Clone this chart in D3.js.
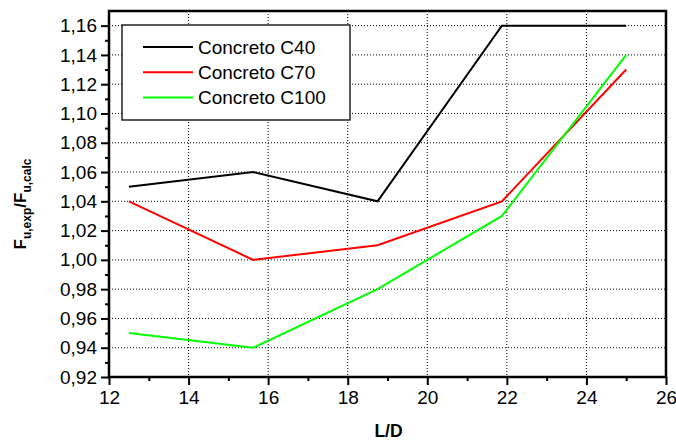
<!DOCTYPE html>
<html><head><meta charset="utf-8">
<script src="https://cdn.jsdelivr.net/npm/d3@7"></script>
<style>body{margin:0;background:#fff}svg{display:block}</style>
</head><body>
<svg id="c" width="676" height="441"></svg>
<script>
const ld = [12.5, 15.625, 18.75, 21.875, 25];
const c40 = [1.05, 1.06, 1.04, 1.16, 1.16];
const c70 = [1.04, 1.00, 1.01, 1.04, 1.13];
const c100 = [0.95, 0.94, 0.98, 1.03, 1.14];
const seriesNames = ["Concreto C40", "Concreto C70", "Concreto C100"];
const seriesColors = ["#000000", "#ff0000", "#00ff00"];
const xTicks = [12, 14, 16, 18, 20, 22, 24, 26];
const yTicks = [0.92, 0.94, 0.96, 0.98, 1.00, 1.02, 1.04, 1.06, 1.08, 1.10, 1.12, 1.14, 1.16];

const svg = d3.select("#c");
const L = 109, R = 666, T = 11, B = 377;
const x = d3.scaleLinear().domain([12, 26]).range([L, R]);
const y = d3.scaleLinear().domain([0.92, 1.17]).range([B, T]);
const font = "Arial, 'Liberation Sans', sans-serif";

// grid
const g = svg.append("g");
g.selectAll("line.gx").data(xTicks.filter(d => d > 12 && d < 26)).enter().append("line")
  .attr("x1", d => x(d)).attr("x2", d => x(d)).attr("y1", T).attr("y2", B)
  .attr("stroke", "#000").attr("stroke-width", 1).attr("stroke-dasharray", "1,2");
g.selectAll("line.gy").data(yTicks.filter(d => d > 0.92)).enter().append("line")
  .attr("x1", L).attr("x2", R).attr("y1", d => y(d)).attr("y2", d => y(d))
  .attr("stroke", "#000").attr("stroke-width", 1).attr("stroke-dasharray", "1,2");

// series
const data = [c40, c70, c100];
const line = d3.line().x((d, i) => x(ld[i])).y(d => y(d));
data.forEach((s, k) => {
  svg.append("path").datum(s).attr("d", line).attr("fill", "none")
    .attr("stroke", seriesColors[k]).attr("stroke-width", 2);
});

// axes
const xAxis = d3.axisBottom(x).tickValues(xTicks).tickSize(8).tickPadding(6).tickFormat(d3.format("d"));
const xMinor = d3.axisBottom(x).tickValues(d3.range(13, 26, 2)).tickSize(4).tickFormat("");
const fmtY = d => d3.format(".2f")(d).replace(".", ",");
const yAxis = d3.axisLeft(y).tickValues(yTicks).tickSize(8).tickPadding(4).tickFormat(fmtY);
const yMinor = d3.axisLeft(y).tickValues(d3.range(0.93, 1.17, 0.02)).tickSize(4).tickFormat("");

function style(sel) {
  sel.attr("font-size", null).attr("font-family", null);
  sel.select(".domain").remove();
  sel.selectAll("line").attr("stroke", "#000").attr("stroke-width", 2);
  sel.selectAll("text").style("font-family", font).style("font-size", "19px").attr("fill", "#000");
}
svg.append("g").attr("transform", `translate(0,${B})`).call(xAxis).call(style);
svg.append("g").attr("transform", `translate(0,${B})`).call(xMinor).call(style);
svg.append("g").attr("transform", `translate(${L},0)`).call(yAxis).call(style);
svg.append("g").attr("transform", `translate(${L},0)`).call(yMinor).call(style);

// frame
svg.append("rect").attr("x", L).attr("y", T).attr("width", R - L).attr("height", B - T)
  .attr("fill", "none").attr("stroke", "#000").attr("stroke-width", 2.5);

// legend
const lg = svg.append("g");
lg.append("rect").attr("x", 122).attr("y", 25).attr("width", 228).attr("height", 95)
  .attr("fill", "#fff").attr("stroke", "#000").attr("stroke-width", 1.3);
seriesNames.forEach((n, i) => {
  const yy = 47 + i * 25.3;
  lg.append("line").attr("x1", 143).attr("x2", 193).attr("y1", yy).attr("y2", yy)
    .attr("stroke", seriesColors[i]).attr("stroke-width", 2);
  lg.append("text").attr("x", 198).attr("y", yy + 6.5).text(n)
    .style("font-family", font).style("font-size", "19px").attr("fill", "#000");
});

// axis titles
svg.append("text").attr("x", (L + R) / 2 + 1).attr("y", 437).attr("text-anchor", "middle")
  .style("font-family", font).style("font-size", "17.5px").attr("font-weight", "bold").text("L/D");

const yt = svg.append("text").attr("transform", "translate(26,204) rotate(-90)")
  .attr("text-anchor", "middle").style("font-family", font).attr("font-weight", "bold").style("font-size", "17px");
yt.append("tspan").text("F");
yt.append("tspan").style("font-size", "12px").attr("dy", 5).text("u,exp");
yt.append("tspan").attr("dy", -5).text("/F");
yt.append("tspan").style("font-size", "12px").attr("dy", 5).text("u,calc");
</script>
</body></html>
